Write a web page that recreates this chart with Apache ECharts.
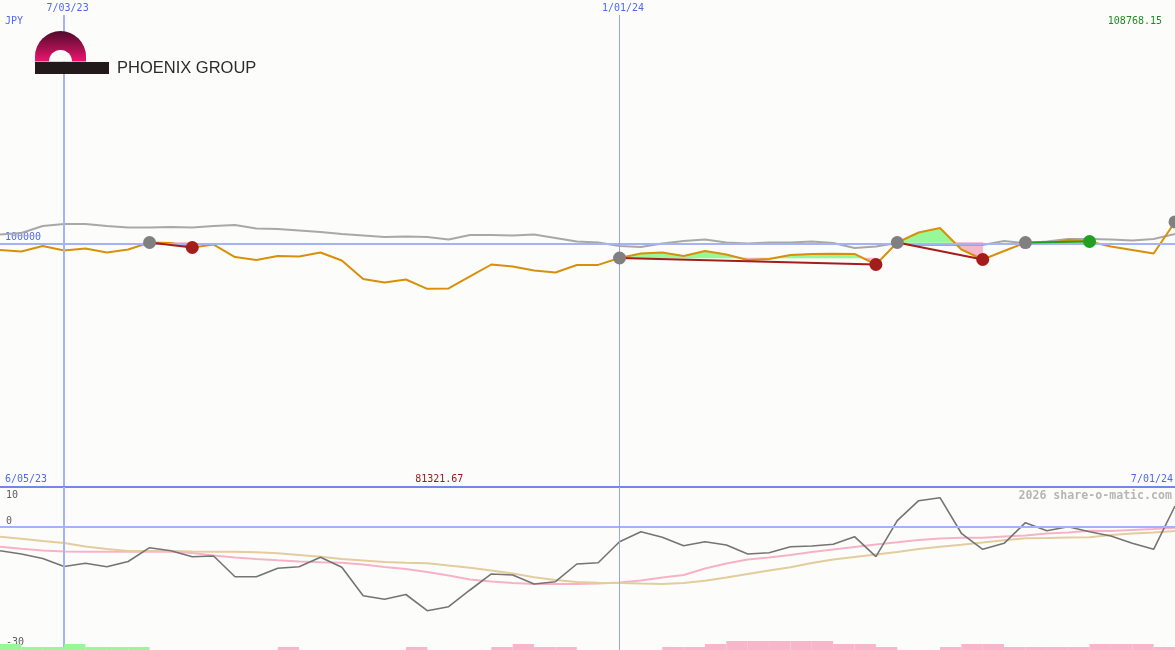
<!DOCTYPE html>
<html><head><meta charset="utf-8">
<script src="https://cdn.jsdelivr.net/npm/echarts@6/dist/echarts.min.js"></script>
<style>html,body{margin:0;padding:0;background:#fcfdfb;}#c{width:1175px;height:650px;}</style>
</head><body><div id="c"></div><script>
// ---------- data ----------
const weeks = ['6/12/23','6/19/23','6/26/23','7/03/23','7/10/23','7/17/23','7/24/23','7/31/23','8/07/23','8/14/23',
  '8/21/23','8/28/23','9/04/23','9/11/23','9/18/23','9/25/23','10/02/23','10/09/23','10/16/23','10/23/23',
  '10/30/23','11/06/23','11/13/23','11/20/23','11/27/23','12/04/23','12/11/23','12/18/23','12/25/23','1/01/24',
  '1/08/24','1/15/24','1/22/24','1/29/24','2/05/24','2/12/24','2/19/24','2/26/24','3/04/24','3/11/24',
  '3/18/24','3/25/24','4/01/24','4/08/24','4/15/24','4/22/24','4/29/24','5/06/24','5/13/24','5/20/24',
  '5/27/24','6/03/24','6/10/24','6/17/24','6/24/24','7/01/24'];
const price = [97250,96640,98890,97050,97870,96230,97460,100330,100150,98280,
  99510,94380,93150,94790,94590,96230,92950,85360,83930,85160,
  81321.67,81500,86390,91310,90490,88850,88030,91100,91150,93970,
  95820,96230,94790,96840,95410,93150,93560,95200,95610,95700,
  95650,91310,100330,104430,106270,97460,93360,96840,100300,99710,
  101350,100740,98690,97250,95820,108768.15];
const trendLine = [103610,104220,107090,107910,107900,107090,106480,106450,106680,106470,
  107090,107500,106070,105860,105250,104630,103810,103200,102580,102790,
  102580,101560,103400,103400,103200,103610,102170,100740,100330,98890,
  98480,99920,100940,101560,100330,99920,100330,100330,100740,100120,
  98070,98690,100120,99300,99300,99300,99300,100940,100000,100740,
  101760,101760,101560,101150,101760,103810];
const oscillator = [-5.83,-6.65,-7.76,-9.75,-8.96,-9.80,-8.51,-5.08,-5.83,-7.32,
  -7.14,-12.29,-12.29,-10.20,-9.80,-7.47,-9.95,-17.01,-17.90,-16.71,
  -20.73,-19.74,-15.59,-11.61,-11.86,-14.10,-13.53,-9.13,-8.81,-3.59,
  -1.11,-2.50,-4.58,-3.59,-4.41,-6.65,-6.32,-4.83,-4.66,-4.24,
  -2.35,-7.32,1.63,6.60,7.34,-1.50,-5.48,-3.99,1.13,-0.86,
  0.14,-1.11,-2.17,-3.99,-5.48,5.28];
const oscAvgFast = [-4.83,-5.33,-5.78,-6.02,-6.07,-6.07,-6.07,-6.07,-6.07,-6.40,
  -7.02,-7.52,-7.89,-8.21,-8.51,-8.68,-8.81,-9.25,-9.88,-10.37,
  -11.12,-11.99,-12.98,-13.48,-13.85,-14.10,-14.10,-14.10,-13.98,-13.73,
  -13.23,-12.48,-11.86,-10.25,-9.01,-8.01,-7.52,-6.89,-6.15,-5.53,
  -4.91,-4.29,-3.74,-3.17,-2.80,-2.60,-2.60,-2.30,-2.05,-1.55,
  -1.30,-0.86,-0.93,-0.68,-0.43,-0.11];
const oscAvgSlow = [-2.35,-2.87,-3.42,-3.91,-4.78,-5.40,-5.90,-5.90,-5.90,-6.02,
  -6.07,-6.07,-6.22,-6.47,-6.89,-7.34,-7.89,-8.26,-8.63,-8.83,
  -8.93,-9.50,-10.05,-10.75,-11.49,-12.43,-13.11,-13.60,-13.78,-13.85,
  -13.98,-14.10,-13.85,-13.28,-12.48,-11.61,-10.75,-9.95,-8.88,-8.01,
  -7.39,-6.77,-6.15,-5.40,-4.83,-4.34,-3.79,-3.24,-2.75,-2.67,
  -2.55,-2.50,-1.93,-1.55,-1.30,-0.93];
const histLevels = [2,1,1,2,1,1,1, 0,0,0,0,0,0, -1, 0,0,0,0,0, -1, 0,0,0,
  -1,-2,-1,-1, 0,0,0,0, -1,-1,-2,-3,-3,-3,-3,-3,-2,-2,-1, 0,0,
  -1,-2,-2,-1,-1,-1,-1,-2,-2,-2,-1];
const entries = [7, 29, 42, 48, 55];
const exits = [9, 41, 46, 51, null];
const dateMarks = ['7/03/23', '1/01/24'];
const dateMarkWidths = [2, 1];
const priceRef = 100000;
const oscTicks = [10, 0, -30];
const periodStart = '6/05/23', periodEnd = '7/01/24';
const currency = 'JPY';
const companyName = 'PHOENIX GROUP';
const watermark = '2026 share-o-matic.com';

// ---------- styles ----------
const BG = '#fcfdfb';
const BLUE_LINE = '#a4b3f4', BLUE_DARK = '#7585ee', BLUE_TEXT = '#4f68f0';
const ORANGE = '#d8900a', GRAY = '#a8a8a8';
const LOSS = '#a51c1c', GAIN = '#22a022', ENTRY = '#808080';
const FILL_UP = '#98f898', FILL_DOWN = '#f8b6ca';
const MONO = 'DejaVu Sans Mono';

const chart = echarts.init(document.getElementById('c'), null, {renderer: 'canvas'});

const closedTrades = entries.map((e, i) => [e, exits[i], price[e]]).filter(t => t[1] !== null);

function renderFill(params, api) {
  const tr = closedTrades[params.dataIndex];
  const e = tr[0], x = tr[1];
  const yb = api.coord([e, price[e]])[1];
  const children = [];
  const push = (pts, up) => children.push({type: 'polygon', shape: {points: pts},
    style: {fill: up ? FILL_UP : FILL_DOWN, stroke: up ? FILL_UP : FILL_DOWN, lineWidth: 0.6}});
  for (let i = e; i < x; i++) {
    const p0 = api.coord([i, price[i]]), p1 = api.coord([i + 1, price[i + 1]]);
    const d0 = p0[1] - yb, d1 = p1[1] - yb;
    if (d0 * d1 < 0) {
      const t = d0 / (d0 - d1);
      const xm = p0[0] + t * (p1[0] - p0[0]);
      push([[p0[0], yb], p0, [xm, yb]], d0 < 0);
      push([[xm, yb], p1, [p1[0], yb]], d1 < 0);
    } else if (d0 !== 0 || d1 !== 0) {
      push([[p0[0], yb], p0, p1, [p1[0], yb]], (d0 + d1) < 0);
    }
  }
  return {type: 'group', children};
}

const vMarks = dateMarks.map((d, i) => ({xAxis: d, lineStyle: {color: i === 0 ? BLUE_LINE : '#93a5f4', width: dateMarkWidths[i], type: 'solid'}}));

const series = [
  {type: 'custom', xAxisIndex: 0, yAxisIndex: 0, renderItem: renderFill, data: closedTrades,
   encode: {x: [0, 1], y: 2}, z: 1, silent: true},
  {type: 'line', xAxisIndex: 0, yAxisIndex: 0, data: trendLine, symbol: 'none', z: 2,
   lineStyle: {color: GRAY, width: 2}, silent: true,
   markLine: {silent: true, symbol: 'none', label: {show: false}, animation: false,
     data: [{yAxis: priceRef, lineStyle: {color: BLUE_LINE, width: 2, type: 'solid'}}].concat(vMarks)}},
  {type: 'line', xAxisIndex: 0, yAxisIndex: 0, data: price, symbol: 'none', z: 4,
   lineStyle: {color: ORANGE, width: 2}, silent: true}
];
closedTrades.forEach(t => {
  const win = price[t[1]] > price[t[0]];
  series.push({type: 'line', xAxisIndex: 0, yAxisIndex: 0, symbol: 'none', z: 5, silent: true,
    lineStyle: {color: win ? GAIN : LOSS, width: 2},
    data: [[weeks[t[0]], price[t[0]]], [weeks[t[1]], price[t[1]]]]});
});
series.push({type: 'scatter', xAxisIndex: 0, yAxisIndex: 0, symbolSize: 13, z: 6, silent: true,
  itemStyle: {color: ENTRY, opacity: 1},
  data: entries.map(e => [weeks[e], price[e]])});
series.push({type: 'scatter', xAxisIndex: 0, yAxisIndex: 0, symbolSize: 13, z: 6, silent: true,
  data: closedTrades.map(t => ({value: [weeks[t[1]], price[t[1]]],
    itemStyle: {color: price[t[1]] > price[t[0]] ? GAIN : LOSS, opacity: 1}}))});
// lower panel
series.push({type: 'line', xAxisIndex: 1, yAxisIndex: 1, data: oscAvgFast, symbol: 'none', z: 2, silent: true,
  lineStyle: {color: '#f8b2c8', width: 2},
  markLine: {silent: true, symbol: 'none', label: {show: false}, animation: false,
    data: [{yAxis: 0, lineStyle: {color: BLUE_LINE, width: 2, type: 'solid'}},
           {yAxis: oscTicks[0], lineStyle: {color: BLUE_DARK, width: 2, type: 'solid'}}].concat(vMarks)}});
series.push({type: 'line', xAxisIndex: 1, yAxisIndex: 1, data: oscAvgSlow, symbol: 'none', z: 3, silent: true,
  lineStyle: {color: '#e4cc9c', width: 2}});
series.push({type: 'line', xAxisIndex: 1, yAxisIndex: 1, data: oscillator, symbol: 'none', z: 4, silent: true,
  lineStyle: {color: '#747474', width: 1.6}});
series.push({type: 'bar', xAxisIndex: 2, yAxisIndex: 2, barWidth: '100%', barCategoryGap: 0, z: 5, silent: true,
  data: histLevels.map(v => ({value: Math.abs(v), itemStyle: {color: v > 0 ? FILL_UP : FILL_DOWN}}))});

const option = {
  backgroundColor: BG,
  animation: false,
  grid: [
    {left: 0, right: 0, top: 15, height: 472},
    {left: 0, right: 0, top: 487, height: 163},
    {left: 0, right: 0, top: 623, height: 27}
  ],
  xAxis: [
    {type: 'category', gridIndex: 0, data: weeks, boundaryGap: false, show: false},
    {type: 'category', gridIndex: 1, data: weeks, boundaryGap: false, show: false},
    {type: 'category', gridIndex: 2, data: weeks.slice(0, weeks.length - 1), boundaryGap: true, show: false}
  ],
  yAxis: [
    {type: 'value', gridIndex: 0, min: 0, max: 193700, show: false},
    {type: 'value', gridIndex: 1, min: -30.5, max: 10, show: false},
    {type: 'value', gridIndex: 2, min: 0, max: 9, show: false}
  ],
  series
};
chart.setOption(option);

// ---------- text & logo ----------
const yTop = v => chart.convertToPixel({yAxisIndex: 0}, v);
const yOsc = v => chart.convertToPixel({yAxisIndex: 1}, v);
const xAt = i => chart.convertToPixel({xAxisIndex: 0}, i);
const maxVal = Math.max(...price), minVal = Math.min(...price);
const minIdx = price.indexOf(minVal);
const border = yOsc(oscTicks[0]);
const txt = (x, y, text, color, align, extra) => Object.assign({type: 'text', x, y, silent: true,
  style: Object.assign({text, fill: color, font: '10px "' + MONO + '"', align, verticalAlign: 'middle'}, extra || {})});

const graphics = [
  txt(5, 21, currency, BLUE_TEXT, 'left'),
  txt(1162, 21, maxVal.toFixed(2), '#1f8c1f', 'right'),
  txt(5, yTop(priceRef) - 5.5, String(priceRef), BLUE_TEXT, 'left'),
  txt(5, border - 8, periodStart, BLUE_TEXT, 'left'),
  txt(1173, border - 8, periodEnd, BLUE_TEXT, 'right'),
  txt(xAt(minIdx) + 12, border - 8, minVal.toFixed(2), '#a01818', 'center'),
  txt(1172, border + 9, watermark, '#b6b6b6', 'right', {font: 'bold 11.6px "' + MONO + '"'})
];
dateMarks.forEach(d => {
  graphics.push(txt(xAt(weeks.indexOf(d)) + 3.5, 8.5, d, BLUE_TEXT, 'center'));
});
oscTicks.forEach((v, i) => {
  graphics.push(txt(6, yOsc(v) + (i === 0 ? 8.5 : -5.5), String(v), '#5a5a5a', 'left'));
});
// logo: arch (outer half-disc + legs, inner hole), bar, name
const archGrad = {type: 'linear', x: 0, y: 31, x2: 0, y2: 61, global: true, colorStops: [
  {offset: 0, color: '#4e0a2c'}, {offset: 0.55, color: '#a2104e'}, {offset: 1, color: '#ec1470'}]};
graphics.push({type: 'sector', silent: true, z: 100,
  shape: {cx: 60.5, cy: 56.5, r: 25.5, r0: 0, startAngle: Math.PI, endAngle: Math.PI * 2, clockwise: true},
  style: {fill: archGrad}});
graphics.push({type: 'rect', silent: true, z: 100, shape: {x: 35, y: 56, width: 51, height: 5.5},
  style: {fill: archGrad}});
graphics.push({type: 'sector', silent: true, z: 101,
  shape: {cx: 60.5, cy: 61.5, r: 11.5, r0: 0, startAngle: Math.PI, endAngle: Math.PI * 2, clockwise: true},
  style: {fill: BG}});
graphics.push({type: 'rect', silent: true, z: 102, shape: {x: 35, y: 62, width: 74, height: 12}, style: {fill: '#231a1b'}});
graphics.push({type: 'text', x: 117, y: 68.5, silent: true, z: 102,
  style: {text: companyName, fill: '#2c2c2c', font: '16.5px "Liberation Sans"', verticalAlign: 'middle'}});

chart.setOption({graphic: graphics});
</script></body></html>
